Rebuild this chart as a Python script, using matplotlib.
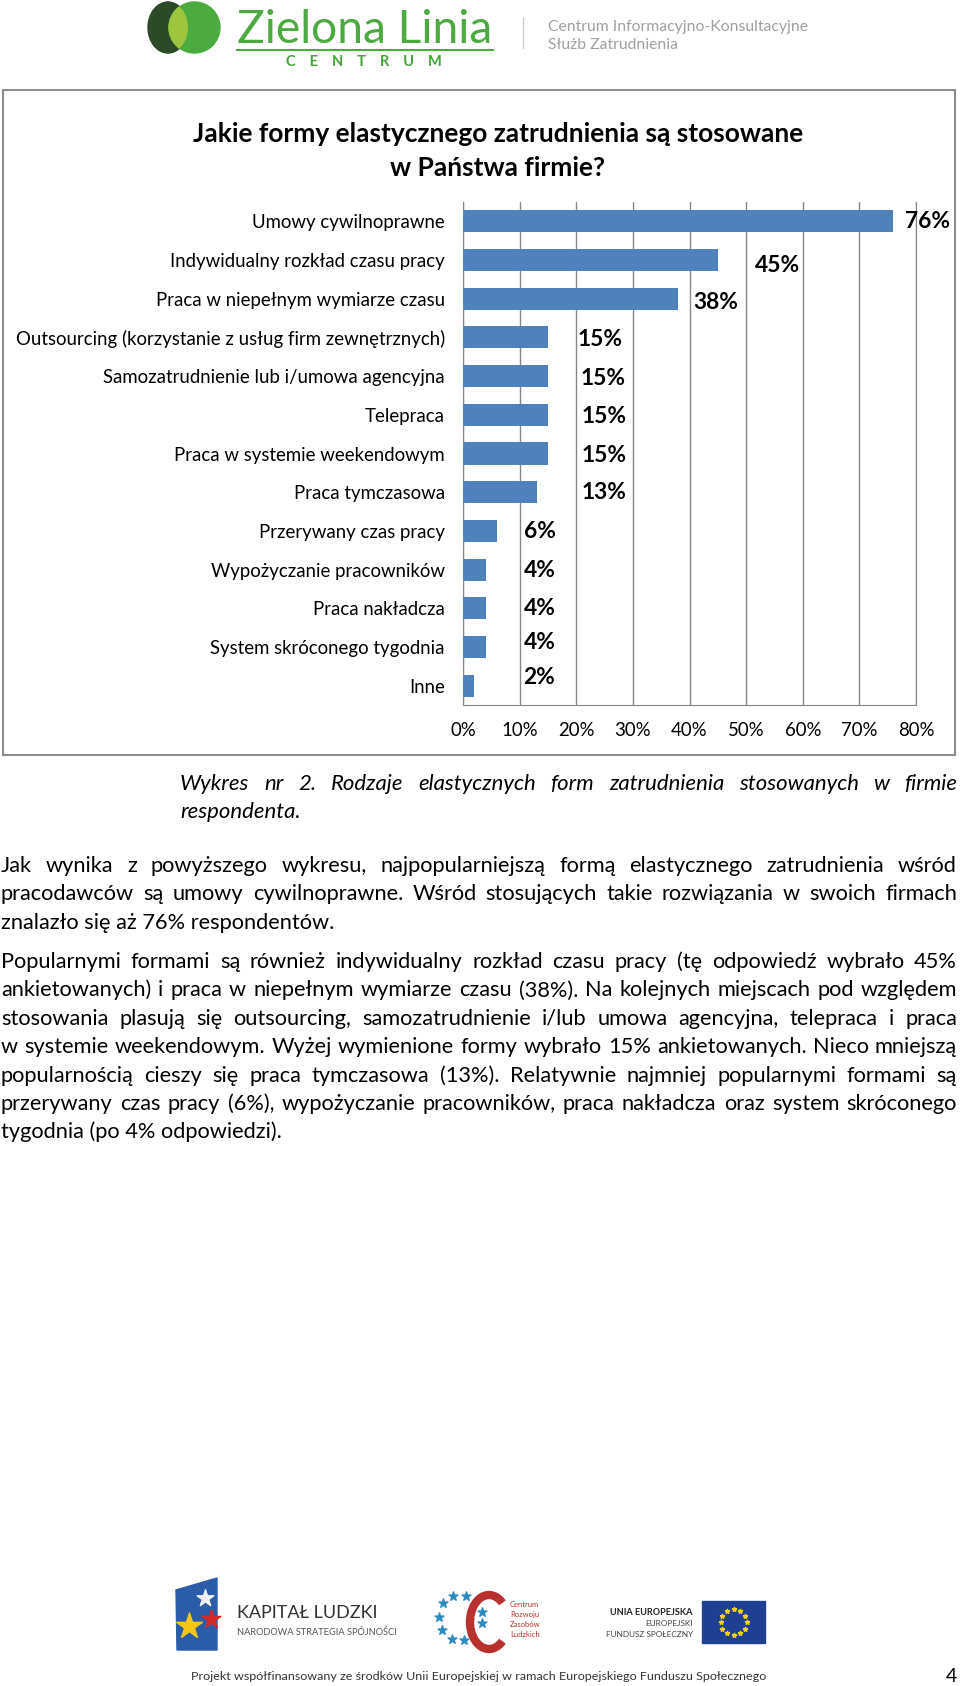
import numpy as np
import matplotlib
matplotlib.use("Agg")
import matplotlib.pyplot as plt
from matplotlib.patches import Rectangle, Ellipse, Polygon, Arc

plt.rcParams["font.family"] = ["Lato", "DejaVu Sans"]

# chart data
categories = [
    "Umowy cywilnoprawne",
    "Indywidualny rozkład czasu pracy",
    "Praca w niepełnym wymiarze czasu",
    "Outsourcing (korzystanie z usług firm zewnętrznych)",
    "Samozatrudnienie lub i/umowa agencyjna",
    "Telepraca",
    "Praca w systemie weekendowym",
    "Praca tymczasowa",
    "Przerywany czas pracy",
    "Wypożyczanie pracowników",
    "Praca nakładcza",
    "System skróconego tygodnia",
    "Inne",
]
values = [76, 45, 38, 15, 15, 15, 15, 13, 6, 4, 4, 4, 2]
ticks = [0, 10, 20, 30, 40, 50, 60, 70, 80]
tick_labels = ["0%", "10%", "20%", "30%", "40%", "50%", "60%", "70%", "80%"]

title_lines = [
    "Jakie formy elastycznego zatrudnienia są stosowane",
    "w Państwa firmie?",
]
caption_lines = [
    "Wykres nr 2. Rodzaje elastycznych form zatrudnienia stosowanych w firmie",
    "respondenta.",
]
para1 = [
    "Jak wynika z powyższego wykresu, najpopularniejszą formą elastycznego zatrudnienia wśród",
    "pracodawców są umowy cywilnoprawne. Wśród stosujących takie rozwiązania w swoich firmach",
    "znalazło się aż 76% respondentów.",
]
para2 = [
    "Popularnymi formami są również indywidualny rozkład czasu pracy (tę odpowiedź wybrało 45%",
    "ankietowanych) i praca w niepełnym wymiarze czasu (38%). Na kolejnych miejscach pod względem",
    "stosowania plasują się outsourcing, samozatrudnienie i/lub umowa agencyjna, telepraca i praca",
    "w systemie weekendowym. Wyżej wymienione formy wybrało 15% ankietowanych. Nieco mniejszą",
    "popularnością cieszy się praca tymczasowa (13%). Relatywnie najmniej popularnymi formami są",
    "przerywany czas pracy (6%), wypożyczanie pracowników, praca nakładcza oraz system skróconego",
    "tygodnia (po 4% odpowiedzi).",
]

# where the value labels sit (x in axis units, y shift in pixels)
label_x = [78.1, 51.6, 40.6, 20.2, 20.7, 20.9, 20.9, 20.9, 10.7, 10.7, 10.7, 10.7, 10.7]
label_dy = [0, 5, 4, 2, 2, 2, 2, 0, 1, 1, 0, -4, -8]

W, H = 960, 1686
fig = plt.figure(figsize=(W / 100, H / 100), dpi=100)
page = fig.add_axes([0, 0, 1, 1])
page.set_xlim(0, W)
page.set_ylim(H, 0)
page.axis("off")
renderer = fig.canvas.get_renderer()


def text_width(s, size, **kw):
    t = page.text(0, 0, s, fontsize=size, **kw)
    w = t.get_window_extent(renderer).width
    t.remove()
    return w


def fit_size(s, width, **kw):
    return 20 * width / text_width(s, 20, **kw)


def justify(line, x0, x1, y, size, **kw):
    words = line.split()
    texts = [page.text(x0, y, w, fontsize=size, va="baseline", ha="left", **kw) for w in words]
    widths = [t.get_window_extent(renderer).width for t in texts]
    gap = (x1 - x0 - sum(widths)) / (len(words) - 1)
    x = x0
    for t, w in zip(texts, widths):
        t.set_x(x)
        x += w + gap


# ---- header logo
dark = Ellipse((168, 27.5), 40, 51, color="#2C4A27")
page.add_patch(dark)
page.add_patch(Ellipse((194.5, 27.5), 51, 51, color="#4CAB3E"))
lens = Ellipse((194.5, 27.5), 51, 51, color="#9DC53E")
page.add_patch(lens)
lens.set_clip_path(dark)

green = "#4DAA40"
s = fit_size("Zielona Linia", 256)
page.text(237, 43, "Zielona Linia", fontsize=s, color=green, va="baseline")
page.plot([237, 493], [49.5, 49.5], color=green, lw=1.5)
cen = "C    E    N    T    R    U    M"
s = fit_size(cen, 157, fontweight="bold")
page.text(363.5, 66, cen, fontsize=s, fontweight="bold", color="#45A23A", ha="center", va="baseline")
page.plot([523, 523], [18, 48], color="#C8C8C8", lw=1)
s = fit_size("Centrum Informacyjno-Konsultacyjne", 260)
page.text(548, 31, "Centrum Informacyjno-Konsultacyjne", fontsize=s, color="#A0A0A0", va="baseline")
page.text(548, 49, "Służb Zatrudnienia", fontsize=s, color="#A0A0A0", va="baseline")

# ---- chart frame and title
page.add_patch(Rectangle((2.5, 89.5), 952, 665, fill=False, ec="#8C8C8C", lw=1.5))
s = fit_size(title_lines[0], 612, fontweight="bold")
page.text(498, 142, title_lines[0], fontsize=s, fontweight="bold", ha="center", va="baseline")
page.text(498, 176, title_lines[1], fontsize=s, fontweight="bold", ha="center", va="baseline")

# ---- bar chart
cat_size = fit_size(categories[3], 429)
val_size = fit_size("76%", 45, fontweight="bold")

ax = fig.add_axes([463 / W, 1 - 705 / H, 453 / W, 503 / H])
y = np.arange(len(categories))
ax.barh(y, values, height=0.57, color="#4F81BD", zorder=3)
ax.set_xlim(0, 80)
ax.set_ylim(len(categories) - 0.5, -0.5)
ax.set_xticks(ticks)
ax.set_xticklabels(tick_labels)
ax.set_yticks(y)
ax.set_yticklabels(categories)
ax.tick_params(axis="both", length=0, labelsize=cat_size, colors="#000000")
ax.tick_params(axis="y", pad=13)
ax.tick_params(axis="x", pad=12)
ax.xaxis.grid(True, color="#868686", lw=1)
ax.set_axisbelow(True)
for side in ["left", "bottom", "right"]:
    ax.spines[side].set_color("#868686")
ax.spines["top"].set_visible(False)

row_px = 503 / len(categories)
for i, v in enumerate(values):
    ax.text(label_x[i], i + label_dy[i] / row_px, f"{v}%", fontsize=val_size,
            fontweight="bold", va="center", ha="left")

# ---- caption and body text
body = fit_size(para2[-1], 281)
cap_size = fit_size(caption_lines[1], 120, style="italic")
justify(caption_lines[0], 180, 957, 790, cap_size, style="italic")
page.text(180, 818, caption_lines[1], fontsize=cap_size, style="italic", va="baseline")

for k, line in enumerate(para1):
    yy = 872 + 28.4 * k
    if k < len(para1) - 1:
        justify(line, 1, 957, yy, body)
    else:
        page.text(1, yy, line, fontsize=body, va="baseline")
for k, line in enumerate(para2):
    yy = 968 + 28.4 * k
    if k < len(para2) - 1:
        justify(line, 1, 957, yy, body)
    else:
        page.text(1, yy, line, fontsize=body, va="baseline")

# ---- footer logos
page.add_patch(Polygon([(176, 1590), (217, 1578), (217, 1650), (177, 1650)], color="#2A5CA8"))
page.scatter([205], [1598], marker="*", s=160, color="#F2F2F2", zorder=3)
page.scatter([211], [1619], marker="*", s=200, color="#D42A2A", zorder=3)
page.scatter([189], [1626], marker="*", s=380, color="#F5C518", zorder=4)
s = fit_size("KAPITAŁ LUDZKI", 140)
page.text(237, 1618, "KAPITAŁ LUDZKI", fontsize=s, color="#333333", va="baseline")
s = fit_size("NARODOWA STRATEGIA SPÓJNOŚCI", 161)
page.text(237, 1635, "NARODOWA STRATEGIA SPÓJNOŚCI", fontsize=s, color="#555555", va="baseline")

star_xy = [(453, 1596), (466, 1596), (443, 1603), (439, 1617), (442, 1630),
           (452, 1639), (464, 1640), (482, 1612), (482, 1623)]
page.scatter([p[0] for p in star_xy], [p[1] for p in star_xy], marker="*", s=45, color="#2E8BC0")
page.add_patch(Arc((489, 1622), 38, 54, theta1=55, theta2=305, lw=6, color="#B8312F"))
for k, word in enumerate(["Centrum", "Rozwoju", "Zasobów", "Ludzkich"]):
    page.text(510, 1607 + 10 * k, word, fontsize=5.5, color="#B8312F", va="baseline")

s = fit_size("UNIA EUROPEJSKA", 83, fontweight="bold")
page.text(693, 1615, "UNIA EUROPEJSKA", fontsize=s, fontweight="bold", color="#222222",
          ha="right", va="baseline")
s = fit_size("FUNDUSZ SPOŁECZNY", 88)
page.text(693, 1626, "EUROPEJSKI", fontsize=s, color="#444444", ha="right", va="baseline")
page.text(693, 1637, "FUNDUSZ SPOŁECZNY", fontsize=s, color="#444444", ha="right", va="baseline")
page.add_patch(Rectangle((702, 1601), 63, 42, color="#1F3F93"))
ang = np.linspace(0, 2 * np.pi, 12, endpoint=False)
page.scatter(733.5 + 13 * np.cos(ang), 1622 + 13 * np.sin(ang), marker="*", s=10,
             color="#F7D117", zorder=3)

s = fit_size("Projekt współfinansowany ze środków Unii Europejskiej w ramach Europejskiego Funduszu Społecznego", 574)
page.text(191, 1680, "Projekt współfinansowany ze środków Unii Europejskiej w ramach Europejskiego Funduszu Społecznego",
          fontsize=s, color="#333333", va="baseline")
page.text(946, 1682, "4", fontsize=14, color="#000000", va="baseline")

fig.savefig("out.png", dpi=100)
